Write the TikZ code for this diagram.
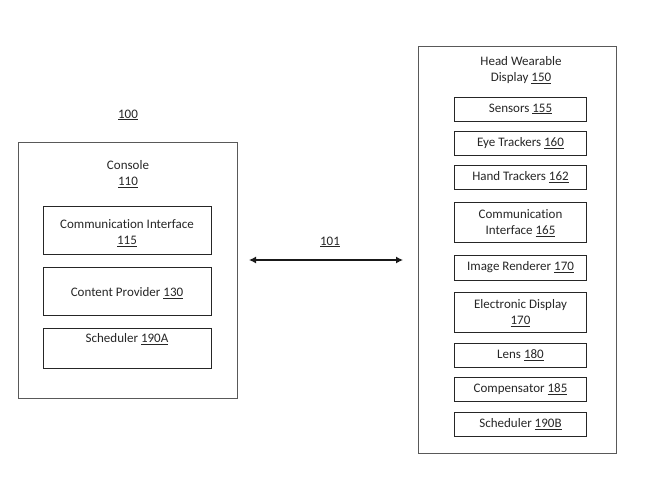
\documentclass[tikz,border=0pt]{standalone}
\usepackage{fontspec}
\setmainfont[Ligatures={NoCommon}]{Carlito}
\usetikzlibrary{arrows.meta}
\begin{document}
\begin{tikzpicture}[x=1pt,y=-1pt,
  every node/.style={font=\fontsize{13}{16}\selectfont, text=black!85},
  outer/.style={draw=black!65, line width=0.8pt, inner sep=0pt},
  inbox/.style={draw=black!85, line width=0.8pt, inner sep=0pt, align=center},
  lbl/.style={align=center, inner sep=0pt}]
\useasboundingbox (0,0) rectangle (649,501);
% Console
\node[lbl] (n100) at (128,115) {\underline{100}};
\node[outer, minimum width=219pt, minimum height=256pt] (console) at (127.5,270) {};
\node[lbl] (consoleT) at (128,174) {Console\\\underline{110}};
\node[inbox, minimum width=168pt, minimum height=48pt] (ci115) at (127,230) {};
\node[lbl] (ci115T) at (127,233) {Communication Interface\\\underline{115}};
\node[inbox, minimum width=168pt, minimum height=48pt] (cp130) at (127,291) {};
\node[lbl] (cp130T) at (127,293) {Content Provider \underline{130}};
\node[inbox, minimum width=168pt, minimum height=40pt] (s190a) at (127,348) {};
\node[lbl] (s190aT) at (127,339) {Scheduler \underline{190A}};
% Arrow
\coordinate (a1) at (249,260);
\coordinate (a2) at (403,260);
\draw[line width=1.2pt, black!90, {Latex[length=7pt,width=7pt]}-{Latex[length=7pt,width=7pt]}] (a1) -- (a2);
\node[lbl] (n101) at (330,242) {\underline{101}};
% HWD
\node[outer, minimum width=198pt, minimum height=407pt] (hwd) at (517,249.5) {};
\node[lbl] (hwdT) at (521,70) {Head Wearable\\Display \underline{150}};
\node[inbox, minimum width=132pt, minimum height=24pt] (sens) at (520.5,109) {Sensors \underline{155}};
\node[inbox, minimum width=132pt, minimum height=24pt] (eye) at (520.5,143) {Eye Trackers \underline{160}};
\node[inbox, minimum width=132pt, minimum height=24pt] (hand) at (520.5,177) {Hand Trackers \underline{162}};
\node[inbox, minimum width=132pt, minimum height=40pt] (ci165) at (520.5,222) {};
\node[lbl] (ci165T) at (520.5,223.5) {Communication\\Interface \underline{165}};
\node[inbox, minimum width=132pt, minimum height=25pt] (ir) at (520.5,267.5) {Image Renderer \underline{170}};
\node[inbox, minimum width=132pt, minimum height=40pt] (ed) at (520.5,312) {};
\node[lbl] (edT) at (520.5,313) {Electronic Display\\\underline{170}};
\node[inbox, minimum width=132pt, minimum height=24pt] (lens) at (520.5,355) {Lens \underline{180}};
\node[inbox, minimum width=132pt, minimum height=24pt] (comp) at (520.5,389) {Compensator \underline{185}};
\node[inbox, minimum width=132pt, minimum height=24pt] (s190b) at (520.5,424) {Scheduler \underline{190B}};
\end{tikzpicture}
\end{document}
